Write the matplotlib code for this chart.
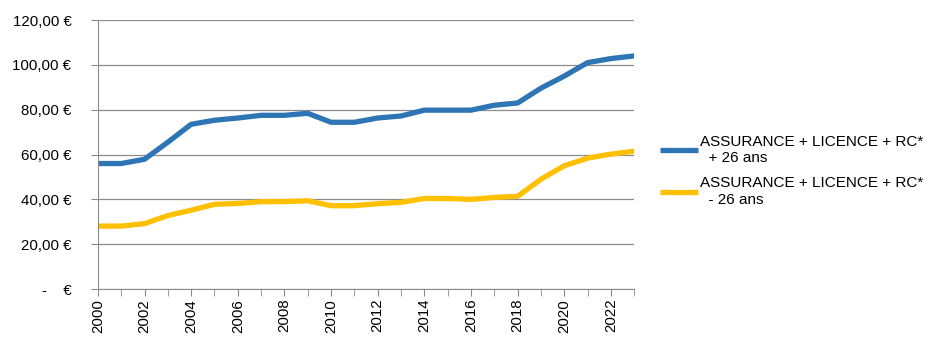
import matplotlib.pyplot as plt
from matplotlib.ticker import FuncFormatter, MultipleLocator

plt.rcParams["font.family"] = ["Liberation Sans", "DejaVu Sans"]

# -----------------------------
# Data
# -----------------------------
years = list(range(2000, 2024))
plus_26 = [56.0, 56.0, 57.9, 65.5, 73.5, 75.3, 76.3, 77.5, 77.5, 78.4, 74.4, 74.4,
           76.3, 77.2, 79.8, 79.8, 79.8, 82.0, 83.0, 89.6, 95.0, 101.0, 102.8, 104.0]
minus_26 = [28.1, 28.1, 29.2, 32.8, 35.2, 37.8, 38.2, 39.0, 39.0, 39.4, 37.2, 37.2,
            38.1, 38.7, 40.4, 40.4, 40.0, 40.9, 41.4, 49.0, 55.0, 58.4, 60.2, 61.5]
labels = ["ASSURANCE + LICENCE + RC*\n  + 26 ans",
          "ASSURANCE + LICENCE + RC*\n  - 26 ans"]
colors = ["#2E75B6", "#FFC000"]


def euro_fmt(v, pos):
    if abs(v) < 1e-9:
        return "-    €"
    return f"{v:,.2f}".replace(",", " ").replace(".", ",") + " €"


fig = plt.figure(figsize=(9.41, 3.45), dpi=100)
ax = fig.add_axes([0.104, 0.162, 0.57, 0.78])

for vals, lab, col in zip([plus_26, minus_26], labels, colors):
    ax.plot(years, vals, color=col, linewidth=3.8, label=lab, solid_capstyle="butt")

ax.set_xlim(2000, 2023)
ax.set_ylim(0, 120)
ax.yaxis.set_major_locator(MultipleLocator(20))
ax.yaxis.set_major_formatter(FuncFormatter(euro_fmt))
ax.xaxis.set_major_locator(MultipleLocator(2))
ax.xaxis.set_minor_locator(MultipleLocator(1))

ax.grid(True, axis="y", color="#8c8c8c", linewidth=0.9)
ax.set_axisbelow(True)
for side in ["top", "right"]:
    ax.spines[side].set_visible(False)
for side in ["left", "bottom"]:
    ax.spines[side].set_color("#8c8c8c")
ax.tick_params(axis="both", which="both", color="#8c8c8c", length=5,
               labelsize=10.8, labelcolor="black")
ax.tick_params(axis="y", pad=14)
ax.tick_params(axis="x", labelrotation=90, pad=2)

ax.legend(loc="center left", bbox_to_anchor=(1.022, 0.44), frameon=False,
          fontsize=11, handlelength=2.5, handletextpad=0.1, labelspacing=0.75)

fig.savefig("out.png", dpi=100)
